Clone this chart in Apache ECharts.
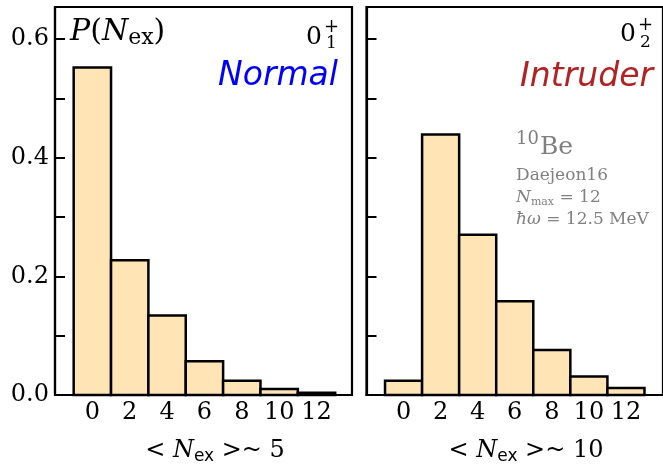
<!DOCTYPE html>
<html><head><meta charset="utf-8">
<script src="https://cdn.jsdelivr.net/npm/echarts@6/dist/echarts.min.js"></script>
<style>html,body{margin:0;padding:0;background:#fff}#c{width:663px;height:465px}</style>
</head><body><div id="c"></div>
<script>
const nex = [0, 2, 4, 6, 8, 10, 12];
const normalP = [0.552, 0.227, 0.134, 0.057, 0.024, 0.010, 0.004];
const intruderP = [0.024, 0.439, 0.270, 0.158, 0.076, 0.031, 0.012];
const yLabelValues = [0, 0.2, 0.4, 0.6];
const yTickValues = [0, 0.1, 0.2, 0.3, 0.4, 0.5, 0.6];
const xLabelValues = [0, 2, 4, 6, 8, 10, 12];
const binWidth = 2;

const SERIF = 'DejaVu Serif';
const SANS = 'DejaVu Sans';
const GRAY = '#808080';

function histItem(params, api) {
  const x = api.value(0), y = api.value(1);
  const p0 = api.coord([x - binWidth / 2, y]);
  const p1 = api.coord([x + binWidth / 2, 0]);
  return {
    type: 'rect',
    shape: { x: p0[0], y: p0[1], width: p1[0] - p0[0], height: p1[1] - p0[1] },
    style: { fill: '#FFE4B5', stroke: '#000', lineWidth: 2.5 }
  };
}

const chart = echarts.init(document.getElementById('c'), null, { renderer: 'canvas' });

function xAxisCfg(gi, max) {
  return {
    gridIndex: gi, type: 'value', min: -2, max: max, interval: 2,
    axisLine: { show: true, onZero: false, lineStyle: { color: '#000', width: 2.2 } },
    axisTick: { show: false },
    splitLine: { show: false },
    axisLabel: { customValues: xLabelValues, fontFamily: SERIF, fontSize: 24, color: '#000', margin: 6 }
  };
}
function yAxisCfg(gi, showLabel) {
  return {
    gridIndex: gi, type: 'value', min: 0, max: 0.654,
    axisLine: { show: true, onZero: false, lineStyle: { color: '#000', width: 2.2 } },
    axisTick: { show: true, inside: true, length: 10, customValues: yTickValues, lineStyle: { color: '#000', width: 2 } },
    splitLine: { show: false },
    axisLabel: { show: showLabel, customValues: yLabelValues, formatter: v => v.toFixed(1), fontFamily: SERIF, fontSize: 24, color: '#000', margin: 6 }
  };
}

const rich = {
  r: { fontFamily: SERIF, fontSize: 24, fill: '#000' },
  i: { fontFamily: SERIF, fontStyle: 'italic', fontSize: 24, fill: '#000' },
  ss: { fontFamily: SANS, fontSize: 17, fill: '#000', padding: [12, 0, 0, 0] }
};

chart.setOption({
  animation: false,
  grid: [
    { left: 55, top: 7, width: 297, height: 388, show: true, borderColor: '#000', borderWidth: 2.2 },
    { left: 366.5, top: 7, width: 299, height: 388, show: true, borderColor: '#000', borderWidth: 2.2 }
  ],
  xAxis: [xAxisCfg(0, 13.9), xAxisCfg(1, 14)],
  yAxis: [yAxisCfg(0, true), yAxisCfg(1, false)],
  series: [
    { type: 'custom', xAxisIndex: 0, yAxisIndex: 0, renderItem: histItem, data: nex.map((x, i) => [x, normalP[i]]) },
    { type: 'custom', xAxisIndex: 1, yAxisIndex: 1, renderItem: histItem, data: nex.map((x, i) => [x, intruderP[i]]) }
  ],
  graphic: [
    { type: 'text', x: 70, y: 32, style: { text: '{i|P}{r|(}{i|N}{sr|ex}{r|)}', verticalAlign: 'middle', rich: {
      r: { fontFamily: SERIF, fontSize: 30, fill: '#000' },
      i: { fontFamily: SERIF, fontStyle: 'italic', fontSize: 30, fill: '#000' },
      sr: { fontFamily: SERIF, fontSize: 22, fill: '#000', padding: [12, 0, 0, 0] } } } },
    // 0_1^+
    { type: 'text', x: 306, y: 37, style: { text: '0', font: '25px "DejaVu Serif"', fill: '#000', verticalAlign: 'middle' } },
    { type: 'text', x: 324, y: 27, style: { text: '+', font: '18px "DejaVu Serif"', fill: '#000', verticalAlign: 'middle' } },
    { type: 'text', x: 326, y: 44, style: { text: '1', font: '17px "DejaVu Serif"', fill: '#000', verticalAlign: 'middle' } },
    { type: 'text', x: 338, y: 76, style: { text: 'Normal', font: 'italic 33px "DejaVu Sans"', fill: '#0000ff', align: 'right', verticalAlign: 'middle' } },
    // 0_2^+
    { type: 'text', x: 620, y: 34, style: { text: '0', font: '25px "DejaVu Serif"', fill: '#000', verticalAlign: 'middle' } },
    { type: 'text', x: 638, y: 25, style: { text: '+', font: '18px "DejaVu Serif"', fill: '#000', verticalAlign: 'middle' } },
    { type: 'text', x: 640, y: 43, style: { text: '2', font: '17px "DejaVu Serif"', fill: '#000', verticalAlign: 'middle' } },
    { type: 'text', x: 653, y: 77, style: { text: 'Intruder', font: 'italic 33px "DejaVu Sans"', fill: '#b22222', align: 'right', verticalAlign: 'middle' } },
    // 10Be block
    { type: 'text', x: 516, y: 139, style: { text: '10', font: '18px "DejaVu Serif"', fill: GRAY, verticalAlign: 'middle' } },
    { type: 'text', x: 540, y: 147, style: { text: 'Be', font: '25px "DejaVu Serif"', fill: GRAY, verticalAlign: 'middle' } },
    { type: 'text', x: 516, y: 176, style: { text: 'Daejeon16', font: '17px "DejaVu Serif"', fill: GRAY, verticalAlign: 'middle' } },
    { type: 'text', x: 516, y: 198, style: { text: '{i|N}{s|max}{r| = 12}', verticalAlign: 'middle', rich: {
      i: { fontFamily: SERIF, fontStyle: 'italic', fontSize: 17, fill: GRAY },
      r: { fontFamily: SERIF, fontSize: 17, fill: GRAY },
      s: { fontFamily: SERIF, fontSize: 11, fill: GRAY, padding: [8, 0, 0, 0] } } } },
    { type: 'text', x: 516, y: 220, style: { text: '{i|ħω}{r| = 12.5 MeV}', verticalAlign: 'middle', rich: {
      i: { fontFamily: SERIF, fontStyle: 'italic', fontSize: 17, fill: GRAY },
      r: { fontFamily: SERIF, fontSize: 17, fill: GRAY } } } },
    // x axis titles
    { type: 'text', x: 215, y: 451, style: { text: '{r|< }{i|N}{ss|ex}{r| >~ 5}', align: 'center', verticalAlign: 'middle', rich: rich } },
    { type: 'text', x: 526, y: 451, style: { text: '{r|< }{i|N}{ss|ex}{r| >~ 10}', align: 'center', verticalAlign: 'middle', rich: rich } }
  ]
});
</script></body></html>
